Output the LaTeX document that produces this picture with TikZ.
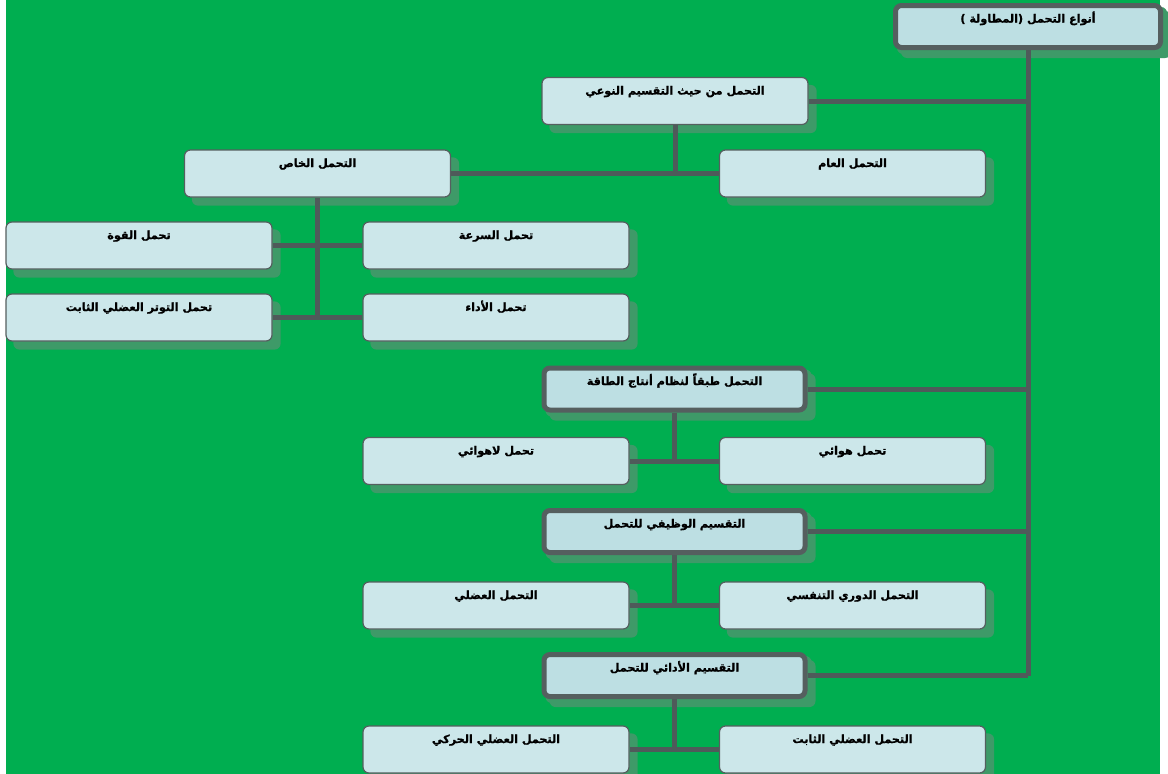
\documentclass[tikz,border=0pt]{standalone}
\usepackage{fontspec}
\newfontfamily\arabicfont[Script=Arabic, BoldFeatures={FakeBold=1.2}]{DejaVu Sans}
\TeXXeTstate=1
\pgfdeclarelayer{bg}
\pgfdeclarelayer{shad}
\pgfdeclarelayer{lines}
\pgfsetlayers{bg,shad,lines,main}
\definecolor{bggreen}{HTML}{00AE50}
\definecolor{shadowgreen}{HTML}{3E9A68}
\definecolor{linegray}{HTML}{4F5A5A}
\definecolor{bordergray}{HTML}{555F5F}
\definecolor{boxfill}{HTML}{CCE7EA}
\definecolor{boxfillb}{HTML}{BDDFE3}
\tikzset{
  box/.style={draw=bordergray, line width=1.2pt, fill=boxfill, rounded corners=6pt,
    minimum width=266pt, minimum height=47pt, inner ysep=6pt,
    text height=11pt, text depth=24pt,
    font=\arabicfont\bfseries\fontsize{11.2}{13}\selectfont},
  bigbox/.style={box, line width=5pt, fill=boxfillb, minimum width=261pt,
    minimum height=42pt, text depth=19pt},
  conn/.style={draw=linegray, line width=5pt}
}
\begin{document}
\begin{tikzpicture}[x=1pt,y=-1pt]
\begin{pgfonlayer}{bg}
\fill[white] (0,0) rectangle (1168,774);
\fill[bggreen] (6,0) rectangle (1160,774);
\end{pgfonlayer}
\useasboundingbox (0,0) rectangle (1168,774);

\node[bigbox, minimum width=265pt] (root) at (1028,26.5) {\beginR أنواع التحمل (المطاولة )\endR};
\node[box] (A) at (675,101) {\beginR التحمل من حيث التقسيم النوعي\endR};
\node[box] (B) at (317.5,173.5) {\beginR التحمل الخاص\endR};
\node[box] (C) at (852.5,173.5) {\beginR التحمل العام\endR};
\node[box] (D) at (139,245.5) {\beginR تحمل القوة\endR};
\node[box] (E) at (496,245.5) {\beginR تحمل السرعة\endR};
\node[box] (F) at (139,317.5) {\beginR تحمل التوتر العضلي الثابت\endR};
\node[box] (G) at (496,317.5) {\beginR تحمل الأداء\endR};
\node[bigbox] (H) at (674.5,389) {\beginR التحمل طبقاً لنظام أنتاج الطاقة\endR};
\node[box] (I) at (496,461) {\beginR تحمل لاهوائي\endR};
\node[box] (J) at (852.5,461) {\beginR تحمل هوائي\endR};
\node[bigbox] (K) at (674.5,531.5) {\beginR التقسيم الوظيفي للتحمل\endR};
\node[box] (L) at (496,605.5) {\beginR التحمل العضلي\endR};
\node[box] (M) at (852.5,605.5) {\beginR التحمل الدوري التنفسي\endR};
\node[bigbox] (N) at (674.5,675.5) {\beginR التقسيم الأدائي للتحمل\endR};
\node[box] (O) at (496,749.5) {\beginR التحمل العضلي الحركي\endR};
\node[box] (P) at (852.5,749.5) {\beginR التحمل العضلي الثابت\endR};

\begin{pgfonlayer}{shad}
\foreach \n in {root,H,K,N} {
  \fill[shadowgreen, rounded corners=6pt] ([shift={(4pt,-4pt)}]\n.south west) rectangle ([shift={(4pt,-4pt)}]\n.north east);
}
\foreach \n in {root,A,B,C,D,E,F,G,H,I,J,K,L,M,N,O,P} {
  \fill[shadowgreen, rounded corners=6pt] ([shift={(8pt,-8pt)}]\n.south west) rectangle ([shift={(8pt,-8pt)}]\n.north east);
}
\end{pgfonlayer}

\begin{pgfonlayer}{lines}
\draw[conn] (root.south) -- (root.south |- N.east);
\draw[conn] (A.east) -- (A.east -| root.south);
\draw[conn] (H.east) -- (H.east -| root.south);
\draw[conn] (K.east) -- (K.east -| root.south);
\draw[conn] (N.east) -- (N.east -| root.south);
\draw[conn] (A.south) -- (A.south |- B.east);
\draw[conn] (B.east) -- (C.west);
\draw[conn] (B.south) -- (B.south |- F.east);
\draw[conn] (D.east) -- (E.west);
\draw[conn] (F.east) -- (G.west);
\draw[conn] (H.south) -- (H.south |- I.east);
\draw[conn] (I.east) -- (J.west);
\draw[conn] (K.south) -- (K.south |- L.east);
\draw[conn] (L.east) -- (M.west);
\draw[conn] (N.south) -- (N.south |- O.east);
\draw[conn] (O.east) -- (P.west);
\end{pgfonlayer}
\end{tikzpicture}
\end{document}
